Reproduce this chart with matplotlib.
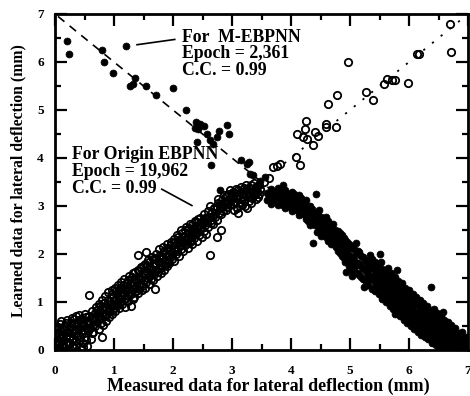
import matplotlib
matplotlib.use("Agg")
import matplotlib.pyplot as plt
from matplotlib.ticker import MultipleLocator

# ---------------- data ----------------
# Origin EBPNN learned vs measured (open circles)
open_x = [0.02,0.03,0.04,0.05,0.06,0.07,0.08,0.09,0.10,0.11,0.12,0.13,0.14,0.15,0.16,0.17,0.18,0.20,0.21,0.22,
          0.23,0.25,0.26,0.28,0.29,0.30,0.31,0.33,0.34,0.35,0.36,0.38,0.39,0.40,0.41,0.42,0.44,0.45,0.46,0.47,
          0.48,0.50,0.51,0.52,0.54,0.55,0.56,0.58,0.58,0.60,0.61,0.62,0.63,0.65,0.66,0.68,0.70,0.71,0.72,0.74,
          0.75,0.76,0.78,0.79,0.80,0.81,0.82,0.84,0.85,0.86,0.88,0.89,0.90,0.91,0.93,0.94,0.96,0.97,0.98,1.00,
          1.01,1.02,1.04,1.05,1.06,1.08,1.09,1.10,1.12,1.13,1.14,1.16,1.17,1.18,1.19,1.21,1.22,1.24,1.25,1.26,
          1.28,1.29,1.30,1.32,1.33,1.34,1.36,1.37,1.38,1.40,1.40,1.41,1.43,1.44,1.46,1.47,1.49,1.50,1.52,1.53,
          1.54,1.55,1.57,1.58,1.60,1.61,1.63,1.64,1.66,1.67,1.69,1.70,1.71,1.73,1.74,1.76,1.77,1.79,1.80,1.81,
          1.83,1.84,1.86,1.87,1.89,1.90,1.92,1.93,1.95,1.96,1.98,1.99,2.01,2.02,2.04,2.05,2.07,2.08,2.10,2.11,
          2.13,2.14,2.16,2.17,2.19,2.20,2.22,2.23,2.25,2.26,2.28,2.29,2.31,2.32,2.34,2.35,2.37,2.38,2.40,2.41,
          2.43,2.44,2.46,2.47,2.49,2.50,2.52,2.53,2.55,2.56,2.58,2.60,2.62,2.63,2.64,2.66,2.68,2.70,2.72,2.74,
          2.74,2.76,2.78,2.80,2.82,2.83,2.85,2.87,2.89,2.91,2.93,2.95,2.97,2.99,3.01,3.03,3.05,3.07,3.09,3.11,
          3.13,3.15,3.17,3.19,3.21,3.23,3.25,3.27,3.29,3.31,3.33,3.35,3.37,3.39,3.41,3.43,3.45,3.47,3.55,3.62,
          3.70,3.76,3.81,4.08,4.16,4.37,4.10,4.27,4.41,4.45,4.21,4.24,4.60,4.77,4.60,4.26,4.63,4.78,5.27,5.39,
          4.97,5.58,5.62,5.71,5.77,5.99,6.13,6.17,6.71,6.70]
open_y = [0.02,0.10,0.20,0.05,0.30,0.15,0.40,0.02,0.25,0.60,0.10,0.45,0.33,0.05,0.20,0.52,0.12,0.38,0.62,0.02,
          0.27,0.48,0.15,0.66,0.36,0.06,0.22,0.55,0.42,0.70,0.10,0.30,0.58,0.20,0.72,0.45,0.03,0.36,0.64,0.52,
          0.14,0.76,0.28,0.48,0.60,0.08,0.40,1.14,0.70,0.55,0.22,0.82,0.36,0.38,0.66,0.50,0.90,0.74,0.58,0.44,
          0.95,0.80,0.66,0.28,1.05,0.52,0.88,0.74,1.12,0.60,0.96,0.82,1.20,0.68,1.02,0.88,1.25,0.76,1.10,0.94,
          1.30,0.82,1.16,0.98,1.36,0.88,1.24,1.06,1.42,1.14,0.96,1.30,1.48,0.90,1.08,1.22,1.40,1.02,1.30,1.55,
          1.16,0.92,1.42,1.28,1.60,1.10,1.48,1.22,1.34,1.97,1.66,1.18,1.52,1.38,1.72,1.26,1.58,1.44,1.80,1.30,
          2.04,1.64,1.50,1.88,1.38,1.72,1.56,1.94,1.46,1.80,1.28,1.66,2.00,1.54,1.86,1.70,2.10,1.60,1.94,1.78,
          2.14,1.66,1.88,2.02,1.74,2.20,1.96,1.82,2.08,2.26,1.90,2.04,2.32,1.86,2.14,2.00,2.40,2.22,1.96,2.30,
          2.10,2.50,2.24,2.06,2.38,2.18,2.56,2.30,2.12,2.44,2.26,2.62,2.36,2.20,2.52,2.34,2.68,2.44,2.28,2.58,
          2.72,2.40,2.52,2.64,2.36,2.70,2.48,2.84,2.60,2.42,2.76,2.56,1.97,3.01,2.70,2.88,2.62,2.94,2.78,2.35,
          2.70,3.06,2.86,2.96,2.49,3.12,2.90,3.04,3.20,2.98,3.10,3.26,3.02,3.16,3.30,2.92,3.08,3.36,3.20,2.86,
          3.14,3.40,3.02,3.26,3.12,3.44,2.96,3.30,3.18,3.38,3.06,3.24,3.48,3.32,3.14,3.42,3.26,3.36,3.50,3.58,
          3.81,3.83,3.88,4.02,3.86,4.28,4.50,4.40,4.54,4.45,4.43,4.61,4.71,4.64,4.64,4.78,5.13,5.31,5.37,5.21,
          5.99,5.54,5.64,5.63,5.63,5.56,6.17,6.17,6.20,6.80]
# more open circles inside the dense band
open_band_x = [0.03,0.05,0.06,0.08,0.09,0.12,0.14,0.15,0.18,0.19,0.22,0.24,0.27,0.28,0.31,0.32,0.35,0.37,0.40,0.42,
               0.44,0.47,0.49,0.52,0.53,0.56,0.59,0.62,0.64,0.67,0.69,0.72,0.73,0.77,0.78,0.80,0.83,0.85,0.87,0.90,
               0.92,0.95,0.97,0.99,1.02,1.03,1.06,1.07,1.10,1.11,1.14,1.15,1.18,1.20,1.23,1.23,1.27,1.28,1.31,1.32,
               1.35,1.36,1.39,1.42,1.43,1.45,1.48,1.49,1.51,1.54,1.56,1.57,1.60,1.62,1.65,1.66,1.68,1.70,1.72,1.75,
               1.76,1.78,1.80,1.82,1.85,1.86,1.88,1.91,1.92,1.94,1.97,1.98,2.01,2.03,2.06,2.07,2.09,2.12,2.13,2.15,
               2.18,2.20,2.21,2.24,2.26,2.27,2.30,2.32,2.33,2.36,2.38,2.39,2.42,2.44,2.45,2.48,2.51,2.54,2.57,2.59,
               2.61,2.65,2.67,2.69,2.71,2.75,2.77,2.79,2.81,2.84,2.86,2.88,2.90,2.92,2.94,2.96,2.98,3.00,3.02,3.04,
               3.06,3.08,3.10,3.12,3.14,3.16,3.18,3.20,3.22,3.24,3.26,3.28,3.30,3.32,3.34,3.36,3.38,3.40,3.42,3.44,
               3.46]
open_band_y = [0.35,0.48,0.12,0.26,0.55,0.30,0.06,0.42,0.28,0.56,0.16,0.38,0.56,0.08,0.44,0.64,0.18,0.50,0.62,0.28,
               0.55,0.06,0.42,0.68,0.20,0.58,0.46,0.64,0.52,0.78,0.62,0.84,0.70,0.92,0.56,0.78,0.98,0.70,0.88,1.04,
               0.80,0.96,1.16,0.86,1.04,1.22,0.94,1.12,1.30,0.98,1.18,1.36,1.06,1.26,1.46,1.12,1.36,1.20,1.52,1.06,
               1.30,1.62,1.44,1.28,1.64,1.48,1.34,1.76,1.60,1.42,1.76,1.60,1.84,1.48,1.66,1.90,1.58,1.78,1.92,1.62,
               1.84,1.98,1.70,1.90,2.06,1.78,1.96,2.12,1.86,2.00,2.18,1.96,2.10,2.26,2.06,2.20,2.36,2.16,2.30,2.44,
               2.26,2.36,2.50,2.22,2.36,2.54,2.30,2.44,2.60,2.40,2.52,2.66,2.46,2.60,2.76,2.56,2.64,2.74,2.66,2.90,
               2.78,2.64,2.80,2.96,2.86,2.98,3.14,3.04,2.84,3.00,3.22,3.08,2.92,3.20,3.06,3.34,3.12,3.22,3.04,3.28,
               3.16,2.96,3.34,3.22,3.06,3.30,3.18,3.38,3.00,3.22,3.36,3.10,3.28,3.44,3.16,3.32,3.22,3.40,3.30,3.18,
               3.44]

# M-EBPNN learned vs measured (filled circles)
fill_x = [0.21,0.24,0.79,0.83,1.20,0.99,1.36,1.27,1.33,1.55,1.71,2.00,2.22,2.39,2.45,2.37,2.43,2.52,2.57,2.40,
          2.62,2.68,2.74,2.78,2.92,2.95,2.64,2.80,3.16,3.28,3.25,3.31,3.36,3.45,3.47,3.56,3.87,
          3.60,3.60,3.66,3.66,3.66,3.72,3.72,3.78,3.78,3.78,3.84,3.84,3.90,3.90,3.90,3.96,3.96,4.02,4.02,4.02,
          4.08,4.08,4.14,4.14,4.14,4.20,4.20,4.26,4.26,4.26,4.32,4.32,4.32,4.38,4.38,4.44,4.44,4.44,4.50,4.50,
          4.50,4.56,4.56,4.62,4.62,4.62,4.68,4.68,4.68,4.74,4.74,4.80,4.80,4.80,4.86,4.86,4.86,4.92,4.92,4.92,
          4.98,4.98,4.98,5.04,5.04,5.04,5.10,5.10,5.10,5.16,5.16,5.16,5.22,5.22,5.22,5.28,5.28,5.28,5.34,5.34,
          5.34,5.40,5.40,5.40,5.46,5.46,5.46,5.52,5.52,5.52,5.52,5.58,5.58,5.58,5.64,5.64,5.64,5.64,5.70,5.70,
          5.70,5.70,5.76,5.76,5.76,5.76,5.82,5.82,5.82,5.88,5.88,5.88,5.88,5.94,5.94,5.94,5.94,6.00,6.00,6.00,
          6.00,6.06,6.06,6.06,6.12,6.12,6.12,6.12,6.18,6.18,6.18,6.18,6.24,6.24,6.24,6.24,6.30,6.30,6.30,6.36,
          6.36,6.36,6.36,6.42,6.42,6.42,6.42,6.48,6.48,6.48,6.48,6.54,6.54,6.54,6.54,6.60,6.60,6.60,6.66,6.66,
          6.66,6.66,6.72,6.72,6.72,6.72,6.78,6.78,6.78,6.84,6.84,6.84,6.90,6.90,6.90,6.96,6.96,6.96,7.00,7.00,
          4.42,4.44,4.38,4.94,5.03,5.23,5.76,6.38,5.50,5.79,6.58]
fill_y = [6.43,6.17,6.24,6.01,6.33,5.77,5.67,5.51,5.54,5.49,5.31,5.46,4.99,4.75,4.70,4.63,4.60,4.66,4.50,4.33,
          4.38,4.30,4.44,4.57,4.68,4.50,3.86,3.33,3.95,3.91,3.88,3.67,3.64,3.46,3.53,3.60,3.43,
          3.28,3.12,3.20,3.36,3.05,3.14,3.30,3.02,3.22,3.38,3.10,3.28,2.96,3.16,3.34,3.06,3.24,2.90,3.12,3.30,
          2.98,3.20,2.82,3.04,3.22,2.90,3.10,2.72,2.92,3.12,2.60,2.80,3.00,2.66,2.86,2.46,2.66,2.86,2.38,2.58,
          2.78,2.48,2.68,2.28,2.48,2.68,2.20,2.40,2.60,2.30,2.50,2.06,2.28,2.48,1.96,2.18,2.40,1.84,2.06,2.30,
          1.76,1.98,2.20,1.66,1.88,2.12,1.78,2.00,2.22,1.56,1.80,2.04,1.48,1.70,1.94,1.40,1.62,1.86,1.52,1.76,
          1.98,1.30,1.54,1.78,1.22,1.44,1.68,1.14,1.36,1.60,1.84,1.08,1.30,1.52,1.00,1.22,1.46,1.70,0.94,1.16,
          1.38,1.60,0.86,1.08,1.30,1.52,0.98,1.22,1.44,0.74,0.96,1.18,1.40,0.66,0.88,1.10,1.30,0.60,0.82,1.04,
          1.24,0.72,0.94,1.16,0.52,0.74,0.96,1.10,0.46,0.66,0.88,1.04,0.40,0.60,0.80,0.98,0.50,0.72,0.92,0.30,
          0.44,0.64,0.84,0.26,0.46,0.66,0.86,0.18,0.38,0.58,0.78,0.12,0.30,0.50,0.70,0.22,0.42,0.62,0.08,0.26,
          0.46,0.58,0.04,0.20,0.38,0.52,0.12,0.30,0.46,0.02,0.20,0.36,0.08,0.24,0.38,0.02,0.14,0.28,0.06,0.18,
          3.24,2.85,2.22,1.63,1.54,1.32,0.76,1.31,2.01,1.66,0.80]
# more filled points inside the dense band
fill_band_x = [3.63,3.69,3.69,3.75,3.81,3.81,3.87,3.87,3.93,3.93,3.99,3.99,4.05,4.05,4.11,4.11,4.17,4.17,4.23,4.23,
               4.29,4.29,4.35,4.35,4.41,4.41,4.47,4.47,4.47,4.53,4.53,4.59,4.59,4.59,4.65,4.65,4.71,4.71,4.71,4.77,
               4.77,4.83,4.83,4.83,4.89,4.89,4.89,4.95,4.95,4.95,5.01,5.01,5.01,5.07,5.07,5.07,5.13,5.13,5.13,5.19,
               5.19,5.19,5.25,5.25,5.25,5.31,5.31,5.31,5.37,5.37,5.37,5.37,5.43,5.43,5.43,5.43,5.49,5.49,5.49,5.49,
               5.55,5.55,5.55,5.55,5.61,5.61,5.61,5.61,5.67,5.67,5.67,5.67,5.73,5.73,5.73,5.73,5.79,5.79,5.79,5.79,
               5.85,5.85,5.85,5.85,5.91,5.91,5.91,5.91,5.97,5.97,5.97,5.97,6.03,6.03,6.03,6.03,6.09,6.09,6.09,6.09,
               6.15,6.15,6.15,6.15,6.21,6.21,6.21,6.21,6.27,6.27,6.27,6.27,6.33,6.33,6.33,6.33,6.39,6.39,6.39,6.39,
               6.45,6.45,6.45,6.45,6.51,6.51,6.51,6.51,6.57,6.57,6.57,6.57,6.63,6.63,6.63,6.63,6.69,6.69,6.69,6.75,
               6.75,6.75,6.81,6.81,6.81,6.87,6.87,6.87,6.93,6.93,6.93,6.99,6.99]
fill_band_y = [3.22,3.10,3.32,3.24,3.14,3.34,3.02,3.22,3.26,3.10,2.98,3.18,3.06,3.26,2.92,3.12,2.98,3.16,2.82,3.02,
               2.88,2.68,2.74,2.94,2.60,2.80,2.52,2.72,2.92,2.44,2.64,2.36,2.58,2.78,2.30,2.54,2.20,2.40,2.62,2.14,
               2.36,2.02,2.22,2.44,1.92,2.12,2.34,1.84,2.08,2.26,1.74,1.94,2.16,1.66,1.88,2.10,1.60,1.82,2.06,1.52,
               1.74,1.96,1.46,1.66,1.88,1.36,1.58,1.80,1.28,1.48,1.70,1.90,1.22,1.42,1.64,1.84,1.16,1.36,1.56,1.76,
               1.06,1.26,1.46,1.68,1.00,1.20,1.40,1.60,0.92,1.12,1.32,1.54,0.86,1.04,1.24,1.46,0.80,1.00,1.18,1.38,
               0.70,0.90,1.10,1.30,0.62,0.82,1.02,1.22,0.56,0.76,0.96,1.16,0.50,0.68,0.88,1.08,0.44,0.62,0.82,1.02,
               0.38,0.56,0.78,0.98,0.32,0.52,0.72,0.92,0.28,0.46,0.66,0.86,0.22,0.40,0.58,0.78,0.14,0.34,0.54,0.74,
               0.10,0.28,0.48,0.68,0.06,0.24,0.42,0.62,0.04,0.18,0.36,0.54,0.02,0.14,0.32,0.50,0.10,0.28,0.44,0.06,
               0.22,0.36,0.02,0.16,0.30,0.04,0.14,0.28,0.02,0.10,0.20,0.02,0.10]

# reference lines
dash_x = [0.05, 3.70]
dash_y = [6.95, 3.30]
dot_x = [3.30, 6.90]
dot_y = [3.30, 6.90]

x_ticks = [0, 1, 2, 3, 4, 5, 6, 7]
y_ticks = [0, 1, 2, 3, 4, 5, 6, 7]

# ---------------- figure ----------------
FONT = "Liberation Serif"
fig = plt.figure(figsize=(4.70, 3.96), dpi=100)
ax = fig.add_axes([55/470, 46/396, 413/470, 336/396])

ax.plot(dash_x, dash_y, color="black", lw=1.2, dashes=(5, 4), zorder=1)
ax.plot(dot_x, dot_y, color="black", lw=1.3, dashes=(1.2, 5), zorder=1)

okw = dict(linestyle="none", marker="o", ms=5.3, mfc="none", mec="black", mew=1.3, zorder=2)
ax.plot(open_band_x, open_band_y, **okw)
ax.plot(open_x, open_y, **okw)
fkw = dict(linestyle="none", marker="o", ms=5.0, mfc="black", mec="black", mew=0.5, zorder=3)
ax.plot(fill_band_x, fill_band_y, **fkw)
ax.plot(fill_x, fill_y, **fkw)

ax.set_xlim(0, 7)
ax.set_ylim(0, 7)
ax.set_xticks(x_ticks)
ax.set_yticks(y_ticks)
ax.xaxis.set_minor_locator(MultipleLocator(0.5))
ax.yaxis.set_minor_locator(MultipleLocator(0.5))
ax.tick_params(which="both", direction="in", top=True, right=True, width=1.6)
ax.tick_params(which="major", length=8.5)
ax.tick_params(which="minor", length=4.5)
ax.tick_params(axis="x", which="major", pad=11)
ax.tick_params(axis="y", which="major", pad=8)
for lab in ax.get_xticklabels() + ax.get_yticklabels():
    lab.set_fontfamily(FONT)
    lab.set_fontweight("bold")
    lab.set_fontsize(9.5)
for sp in ax.spines.values():
    sp.set_linewidth(2.0)

tkw = dict(fontfamily=FONT, fontweight="bold", fontsize=12.8, va="center", ha="left")
ax.text(2.15, 6.52, "For  M-EBPNN", **tkw)
ax.text(2.15, 6.17, "Epoch = 2,361", **tkw)
ax.text(2.15, 5.82, "C.C. = 0.99", **tkw)
ax.text(0.29, 4.07, "For Origin EBPNN", **tkw)
ax.text(0.29, 3.72, "Epoch = 19,962", **tkw)
ax.text(0.29, 3.37, "C.C. = 0.99", **tkw)
ax.plot([1.39, 2.03], [6.36, 6.47], color="black", lw=1.2)
ax.plot([1.81, 2.32], [3.35, 3.01], color="black", lw=1.2)

fig.text(268/470, 1 - 386/396, "Measured data for lateral deflection (mm)",
         fontfamily=FONT, fontweight="bold", fontsize=13, ha="center", va="center")
fig.text(18/470, 1 - 181/396, "Learned data for lateral deflection (mm)",
         fontfamily=FONT, fontweight="bold", fontsize=11.3, ha="center", va="center",
         rotation=90)

fig.savefig("out.png", dpi=100)
